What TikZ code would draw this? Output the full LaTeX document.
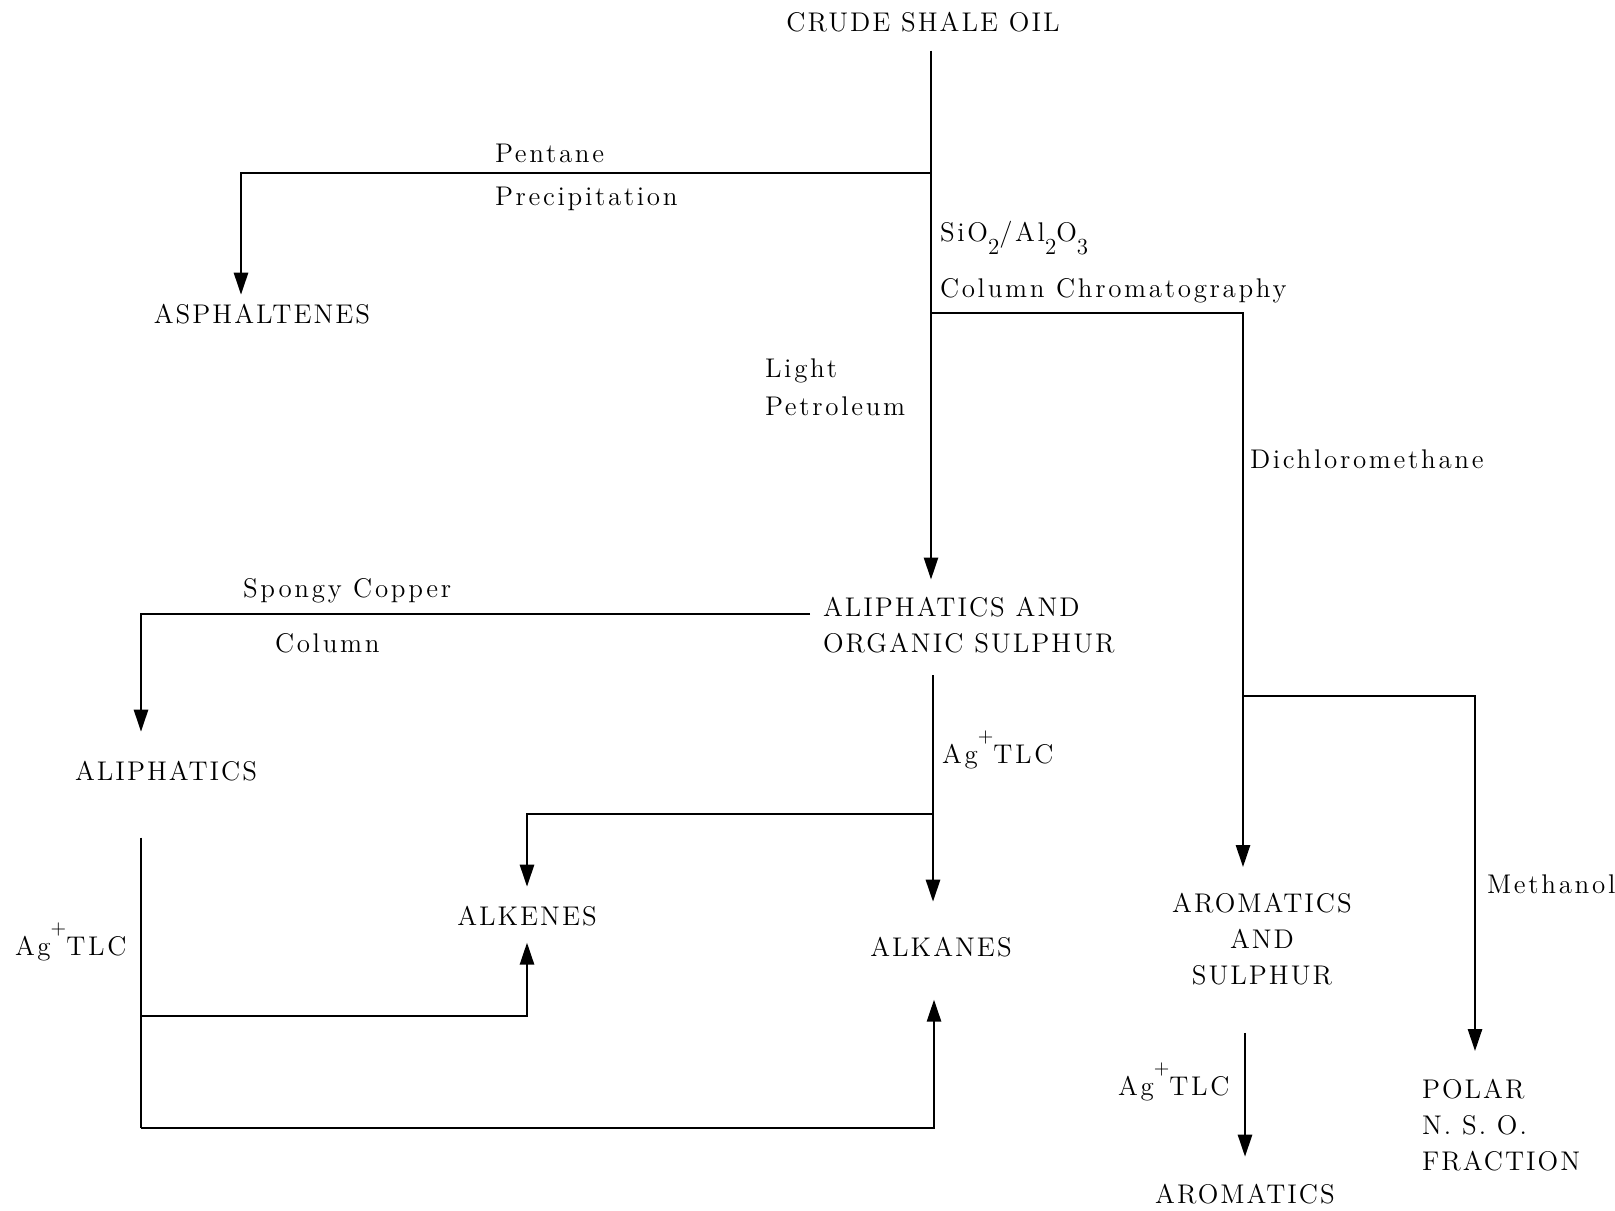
\documentclass[tikz,border=0pt]{standalone}
\usepackage{fontspec}
\setmainfont{Latin Modern Roman}
\usepackage{tikz}
\usetikzlibrary{arrows.meta,calc}

\newcommand{\agtlc}{Ag\raisebox{10.5pt}{\fontsize{10}{10}\selectfont +}TLC}
\newcommand{\lowsub}[1]{\raisebox{-6.5pt}{\fontsize{11.5}{11.5}\selectfont #1}}

\begin{document}
\begin{tikzpicture}[
    x=0.5pt, y=-0.5pt,
    every node/.style={font=\fontsize{13.5}{18}\selectfont\addfontfeatures{LetterSpace=7.5}, inner sep=0pt, outer sep=0pt},
    lbl/.style={anchor=base west, font=\fontsize{13.5}{18}\selectfont\addfontfeatures{LetterSpace=10}},
    wire/.style={line width=1.3pt},
    arrow/.style={wire, -{Triangle[length=11pt,width=7pt]}}
]
\useasboundingbox (0,0) rectangle (1615,1210);

% fractions
\node[anchor=base] (crude) at (923,32) {CRUDE SHALE OIL};
\node[anchor=base] (asph) at (262,323) {ASPHALTENES};
\node[align=left, anchor=west] (aliorg) at (823,625.5) {ALIPHATICS AND\\ORGANIC SULPHUR};
\node[anchor=base] (aliph) at (166,780) {ALIPHATICS};
\node[anchor=base] (alkenes) at (527,925) {ALKENES};
\node[anchor=base] (alkanes) at (941,956) {ALKANES};
\node[align=center] (aromsul) at (1262,939) {AROMATICS\\AND\\SULPHUR};
\node[anchor=base] (arom) at (1245,1203) {AROMATICS};
\node[align=left, anchor=west] (polar) at (1422,1125) {POLAR\\N. S. O.\\FRACTION};

% separation steps
\node[lbl] (pentane) at (495,162) {Pentane};
\node[lbl] (precip) at (495,205) {Precipitation};
\node[lbl] (sio) at (940,241) {SiO\lowsub{2}/Al\lowsub{2}O\lowsub{3}};
\node[lbl] (colchrom) at (940,297) {Column Chromatography};
\node[lbl] (light) at (765,377) {Light};
\node[lbl] (petrol) at (765,415) {Petroleum};
\node[lbl] (dcm) at (1250,468) {Dichloromethane};
\node[lbl] (spongy) at (243,597) {Spongy Copper};
\node[lbl] (column) at (275,652) {Column};
\node[lbl] (tlcmid) at (942,763) {\agtlc};
\node[lbl] (tlcleft) at (15,955) {\agtlc};
\node[lbl] (tlcright) at (1118,1095) {\agtlc};
\node[lbl] (methanol) at (1487,893) {Methanol};

% branch points
\coordinate (jA) at (931,173);
\coordinate (jB) at (931,313);
\coordinate (jC) at (1243,696);
\coordinate (jE) at (933,814);
\coordinate (jF) at (141,1016);
\coordinate (jG) at (141,1128);

\draw[wire, shorten <=9pt] (crude.south -| jA) -- (jB);
\draw[arrow, shorten >=4.5pt] (jA) -| ([xshift=-10.5pt]asph.north);
\draw[arrow, shorten >=9pt] (jB) -- (jB |- aliorg.north);
\draw[arrow, shorten >=13pt] (jB) -| ([xshift=-9.5pt]aromsul.north);
\draw[arrow, shorten >=14pt] (jC) -| ([xshift=26.5pt]polar.north west);
\draw[arrow, shorten >=14.5pt] ([xshift=-6.5pt,yshift=5.75pt]aliorg.west) -| ([xshift=-12.5pt]aliph.north);
\draw[wire, shorten <=11pt] (aliorg.south -| jE) -- (jE);
\draw[arrow, shorten >=17.5pt] (jE) -- (jE |- alkanes.north);
\draw[arrow, shorten >=9.5pt] (jE) -| (alkenes.north);
\draw[wire, shorten <=28.5pt] ([xshift=-12.5pt]aliph.south) -- (jG);
\draw[arrow, shorten >=8.5pt] (jF) -| (alkenes.south);
\draw[arrow, shorten >=21.5pt] (jG) -| ([xshift=-3.5pt]alkanes.south);
\draw[arrow, shorten <=24pt, shorten >=13.5pt] (arom.north |- aromsul.south) -- (arom.north);
\end{tikzpicture}
\end{document}
